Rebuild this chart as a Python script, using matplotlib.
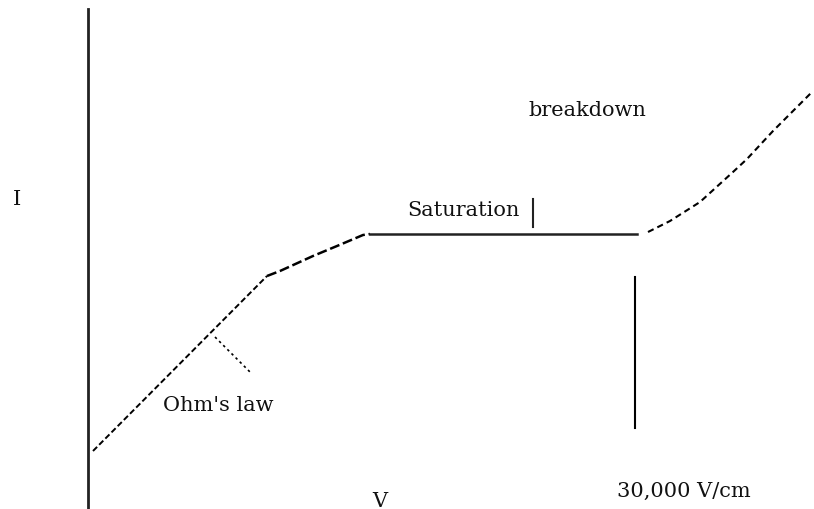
import matplotlib.pyplot as plt

# curve pieces, in picture units (x right, y down)
ohm_x = [93, 267]
ohm_y = [452, 277]
knee_x = [267, 280, 313, 337, 363, 370]
knee_y = [277, 272, 257, 247, 236, 235]
sat_x = [370, 637]
sat_y = [235, 235]
brk_x = [648, 670, 700, 733, 747, 773, 812]
brk_y = [233, 222, 203, 173, 160, 132, 93]

# annotations
leader_x = [215, 252]
leader_y = [338, 375]
field_x = [635, 635]
field_y = [278, 429]
tick_x = [533, 533]
tick_y = [200, 228]
axis_x = [88, 88]
axis_y = [10, 510]

labels = [
    (13, 200, 'I'),
    (407, 211, 'Saturation'),
    (528, 111, 'breakdown'),
    (163, 406, "Ohm's law"),
    (617, 491, '30,000 V/cm'),
    (372, 502, 'V'),
]

fig = plt.figure(figsize=(8.14, 5.10), dpi=100)
ax = fig.add_axes([0, 0, 1, 1])
ax.set_xlim(0, 814)
ax.set_ylim(510, 0)
ax.axis('off')

ax.plot(axis_x, axis_y, color='#222222', lw=2)
ax.plot(ohm_x, ohm_y, color='black', lw=1.4, ls=(0, (3, 1.5)))
ax.plot(knee_x, knee_y, color='black', lw=1.8, ls=(0, (4, 1.5)))
ax.plot(sat_x, sat_y, color='#222222', lw=1.8)
ax.plot(brk_x, brk_y, color='black', lw=1.5, ls=(0, (3, 2)))
ax.plot(leader_x, leader_y, color='black', lw=1.2, ls=(0, (1.5, 2)))
ax.plot(field_x, field_y, color='black', lw=1.5)
ax.plot(tick_x, tick_y, color='#222222', lw=1.5)

for x, y, s in labels:
    ax.text(x, y, s, fontsize=15, family='DejaVu Serif',
            ha='left', va='center', color='#111111')

fig.savefig('out.png', dpi=100)
